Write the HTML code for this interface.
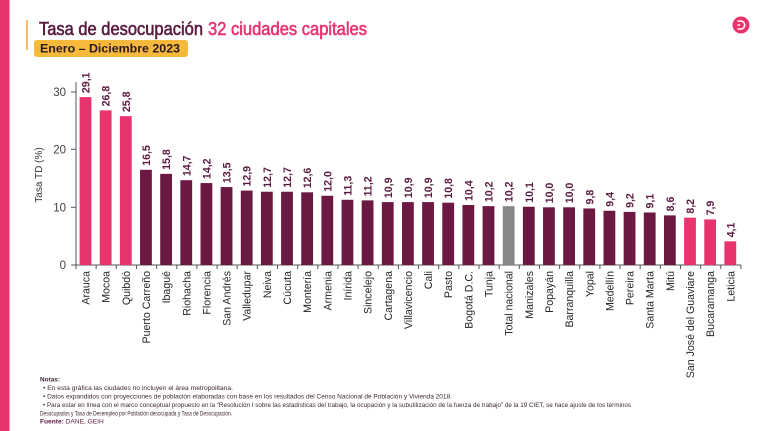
<!DOCTYPE html>
<html><head><meta charset="utf-8"><style>
html,body{margin:0;padding:0;background:#fff;}
svg{display:block;font-family:"Liberation Sans",sans-serif;}
</style></head><body>
<svg width="767" height="431" viewBox="0 0 767 431" xmlns="http://www.w3.org/2000/svg">
<rect x="0" y="0" width="767" height="431" fill="#fff"/>
<rect x="0" y="0" width="9.5" height="431" fill="#e8336d"/>
<!-- logo -->
<circle cx="741" cy="25" r="8.5" fill="#e8336d"/>
<path d="M737.5 21 h3.2 a4 4 0 0 1 0 8 h-3.2 M737.5 25 h2.5" fill="none" stroke="#fff" stroke-width="1.6"/>
<!-- title -->
<line x1="27" y1="20" x2="27" y2="50" stroke="#f5b040" stroke-width="1.6"/>
<text x="39" y="35" font-size="18.5" fill="#5a1a40" stroke="#5a1a40" stroke-width="0.6" textLength="164" lengthAdjust="spacingAndGlyphs">Tasa de desocupación</text>
<text x="208" y="35" font-size="18.5" fill="#e8336d" stroke="#e8336d" stroke-width="0.6" textLength="159" lengthAdjust="spacingAndGlyphs">32 ciudades capitales</text>
<rect x="34" y="40" width="154" height="17" rx="3" fill="#f6b93b"/>
<text x="40" y="52.5" font-size="11.5" fill="#2a1a1f" font-weight="bold" textLength="140" lengthAdjust="spacingAndGlyphs">Enero – Diciembre  2023</text>
<!-- axes -->
<g stroke="#555" stroke-width="1">
<line x1="76" y1="82" x2="76" y2="265"/>
<line x1="71" y1="265" x2="741" y2="265"/>
<line x1="71" y1="92" x2="76" y2="92"/>
<line x1="71" y1="149.3" x2="76" y2="149.3"/>
<line x1="71" y1="207.3" x2="76" y2="207.3"/>
</g>
<g font-size="11.5" fill="#404040" text-anchor="end">
<text x="66" y="96">30</text>
<text x="66" y="153.5">20</text>
<text x="66" y="211.5">10</text>
<text x="66" y="269">0</text>
</g>
<text transform="translate(42,175) rotate(-90)" font-size="10" fill="#333" text-anchor="middle">Tasa TD (%)</text>
<g id="bars"></g>
<!-- notes -->
<g fill="#3d2636" font-size="6.6">
<text x="40" y="381.5" font-weight="bold" textLength="20" lengthAdjust="spacingAndGlyphs">Notas:</text>
<text x="43" y="390" textLength="190" lengthAdjust="spacingAndGlyphs">• En esta gráfica las ciudades no incluyen el área metropolitana.</text>
<text x="43" y="398.5" textLength="409" lengthAdjust="spacingAndGlyphs">• Datos expandidos con proyecciones de población elaboradas con base en los resultados del Censo Nacional de Población y Vivienda 2018.</text>
<text x="43" y="407" textLength="588" lengthAdjust="spacingAndGlyphs">• Para estar en línea con el marco conceptual propuesto en la “Resolución I sobre las estadísticas del trabajo, la ocupación y la subutilización de la fuerza de trabajo” de la 19 CIET, se hace ajuste de los términos</text>
<text x="40" y="415.5" textLength="192" lengthAdjust="spacingAndGlyphs">Desocupados y Tasa de Desempleo por Población desocupada y Tasa de Desocupación.</text>
<text x="40" y="423.5"><tspan font-weight="bold" fill="#5a1a40">Fuente:</tspan><tspan fill="#5a1a40"> DANE, GEIH</tspan></text>
</g>
<script>
(function(){
var d=[["Arauca",29.1,"p"],["Mocoa",26.8,"p"],["Quibdó",25.8,"p"],["Puerto Carreño",16.5],["Ibagué",15.8],["Riohacha",14.7],["Florencia",14.2],["San Andrés",13.5],["Valledupar",12.9],["Neiva",12.7],["Cúcuta",12.7],["Montería",12.6],["Armenia",12.0],["Inírida",11.3],["Sincelejo",11.2],["Cartagena",10.9],["Villavicencio",10.9],["Cali",10.9],["Pasto",10.8],["Bogotá D.C.",10.4],["Tunja",10.2],["Total nacional",10.2,"g"],["Manizales",10.1],["Popayán",10.0],["Barranquilla",10.0],["Yopal",9.8],["Medellín",9.4],["Pereira",9.2],["Santa Marta",9.1],["Mitú",8.6],["San José del Guaviare",8.2,"p"],["Bucaramanga",7.9,"p"],["Leticia",4.1,"p"]];
var ns="http://www.w3.org/2000/svg",g=document.getElementById("bars");
function el(t,a,txt){var e=document.createElementNS(ns,t);for(var k in a)e.setAttribute(k,a[k]);if(txt!=null)e.textContent=txt;g.appendChild(e);return e;}
var pitch=20.15;
for(var k=0;k<=33;k++){var tx=76+pitch*k;el("line",{x1:tx,y1:265,x2:tx,y2:269,stroke:"#555","stroke-width":1});}
d.forEach(function(r,i){
 var x=79.6+pitch*i,w=11.8,cx=x+w/2,top=265-r[1]*5.77;
 var col=r[2]=="p"?"#e8336d":(r[2]=="g"?"#878787":"#6b1843");
 el("rect",{x:x,y:top,width:w,height:265-top,fill:col});
 el("text",{transform:"translate("+(cx+4)+","+(top-4)+") rotate(-90)","font-size":"10.6","font-weight":"bold",fill:"#5a1a40"},r[1].toFixed(1).replace(".",","));
 el("text",{transform:"translate("+(cx+4)+",271) rotate(-90)","font-size":"10.6",fill:"#262626","text-anchor":"end"},r[0]);
});
})();
</script>
</svg>
</body></html>
